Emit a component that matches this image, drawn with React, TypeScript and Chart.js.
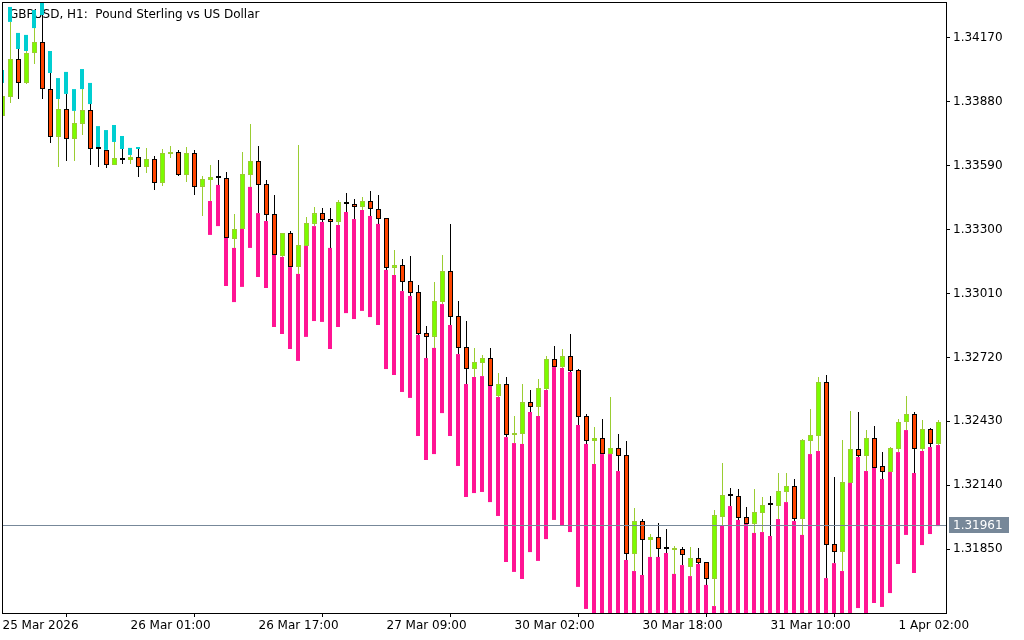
import React, { useEffect, useRef } from "react";
import { Chart, registerables } from "chart.js";

Chart.register(...registerables);

const FONT = '"DejaVu Sans", "Noto Sans", sans-serif';
const TITLE = "GBPUSD, H1:  Pound Sterling vs US Dollar";
const LAST_PRICE = 1.31961;

// x-axis tick labels (hourly bars, one label every 16 bars)
const timeTickIdx = [0, 16, 32, 48, 64, 80, 96, 112];
const timeLabels = [
  "25 Mar 2026",
  "26 Mar 01:00",
  "26 Mar 17:00",
  "27 Mar 09:00",
  "30 Mar 02:00",
  "30 Mar 18:00",
  "31 Mar 10:00",
  "1 Apr 02:00",
];

const priceTicks = [1.3417, 1.3388, 1.3359, 1.333, 1.3301, 1.3272, 1.3243, 1.3214, 1.3185];

const opens = [
  1.33816, 1.33902, 1.34075, 1.33966, 1.34102, 1.34152, 1.33938, 1.33721, 1.33848, 1.33711,
  1.3378, 1.33843, 1.33666, 1.33662, 1.33593, 1.33625, 1.33616, 1.3363, 1.33584, 1.33621,
  1.33512, 1.33643, 1.33652, 1.33548, 1.33648, 1.33494, 1.33525, 1.33534, 1.33534, 1.33257,
  1.33303, 1.33548, 1.33612, 1.33507, 1.33371, 1.3318, 1.33285, 1.3313, 1.33226, 1.33326,
  1.33375, 1.33348, 1.33335, 1.33425, 1.33416, 1.33403, 1.3343, 1.33394, 1.33353, 1.33126,
  1.33139, 1.33067, 1.33017, 1.32831, 1.32813, 1.32971, 1.33112, 1.32908, 1.32767, 1.32667,
  1.32694, 1.32717, 1.32545, 1.32599, 1.32368, 1.32372, 1.32517, 1.32495, 1.32576, 1.32713,
  1.32676, 1.32726, 1.32663, 1.32454, 1.3234, 1.32354, 1.32281, 1.32309, 1.32277, 1.31827,
  1.31977, 1.31891, 1.31905, 1.3185, 1.31846, 1.3185, 1.31768, 1.31809, 1.31791, 1.31714,
  1.31995, 1.32091, 1.32091, 1.31995, 1.31964, 1.32013, 1.3205, 1.32045, 1.32109, 1.32136,
  1.31986, 1.3234, 1.32363, 1.32608, 1.31873, 1.31836, 1.3215, 1.32304, 1.32272, 1.32354,
  1.32227, 1.322, 1.32304, 1.32427, 1.32463, 1.32304, 1.32395, 1.32327,
];

const highs = [
  1.33966, 1.34243, 1.3412, 1.34111, 1.34215, 1.34274, 1.34011, 1.33893, 1.33916, 1.33839,
  1.33938, 1.3387, 1.33666, 1.33662, 1.33698, 1.33666, 1.33639, 1.33666, 1.33671, 1.33634,
  1.33666, 1.3368, 1.33662, 1.33675, 1.33662, 1.33543, 1.33593, 1.33616, 1.33562, 1.33371,
  1.33652, 1.3378, 1.3368, 1.33525, 1.33457, 1.33285, 1.33294, 1.33684, 1.33357, 1.33403,
  1.33398, 1.33398, 1.33435, 1.33466, 1.33439, 1.33448, 1.33475, 1.33457, 1.33353, 1.33208,
  1.33167, 1.3318, 1.33049, 1.32862, 1.33062, 1.33185, 1.33326, 1.32976, 1.32885, 1.32763,
  1.32731, 1.32763, 1.32649, 1.32631, 1.32454, 1.32599, 1.32572, 1.32622, 1.32726, 1.32772,
  1.32758, 1.32826, 1.32667, 1.32463, 1.32404, 1.3244, 1.3254, 1.32372, 1.3234, 1.32036,
  1.31986, 1.31918, 1.31968, 1.31941, 1.31864, 1.31859, 1.31859, 1.31855, 1.31791, 1.32027,
  1.3224, 1.32127, 1.32122, 1.32041, 1.32122, 1.32086, 1.32091, 1.32195, 1.32195, 1.32168,
  1.32349, 1.32486, 1.32631, 1.3264, 1.32177, 1.32345, 1.32477, 1.32472, 1.3239, 1.32408,
  1.3229, 1.32313, 1.3244, 1.32545, 1.32472, 1.32436, 1.32399, 1.32436,
];

const lows = [
  1.33816, 1.33875, 1.33893, 1.33961, 1.34052, 1.33893, 1.33693, 1.33584, 1.33612, 1.33612,
  1.3373, 1.33593, 1.33584, 1.3358, 1.33593, 1.33598, 1.33598, 1.33539, 1.33557, 1.3348,
  1.33498, 1.33625, 1.33543, 1.33516, 1.33457, 1.33362, 1.3343, 1.33503, 1.33262, 1.33217,
  1.33303, 1.33494, 1.33375, 1.33339, 1.33185, 1.33176, 1.3313, 1.33099, 1.33226, 1.33316,
  1.33335, 1.33217, 1.33321, 1.3338, 1.33348, 1.33389, 1.33362, 1.33326, 1.33117, 1.33094,
  1.33021, 1.32999, 1.32822, 1.32717, 1.32763, 1.32962, 1.32867, 1.32735, 1.32599, 1.32631,
  1.32635, 1.3259, 1.3254, 1.32358, 1.32331, 1.32327, 1.32472, 1.32454, 1.32572, 1.32676,
  1.32672, 1.32654, 1.32413, 1.32327, 1.32236, 1.32281, 1.32281, 1.32204, 1.318, 1.3175,
  1.31732, 1.31814, 1.31814, 1.31832, 1.31737, 1.31777, 1.31727, 1.31782, 1.31687, 1.31591,
  1.31959, 1.32045, 1.31982, 1.31964, 1.31923, 1.31927, 1.31909, 1.31986, 1.32063, 1.31977,
  1.31914, 1.32281, 1.32295, 1.31718, 1.31786, 1.3175, 1.3215, 1.32268, 1.32204, 1.32218,
  1.32168, 1.322, 1.3229, 1.3239, 1.32195, 1.32295, 1.32313, 1.32322,
];

const closes = [
  1.33907, 1.34075, 1.33966, 1.34102, 1.34152, 1.33938, 1.33721, 1.33848, 1.33711, 1.33784,
  1.33843, 1.33666, 1.33666, 1.33593, 1.33625, 1.33616, 1.3363, 1.33584, 1.33621, 1.33512,
  1.33648, 1.33652, 1.33548, 1.33648, 1.33494, 1.3353, 1.33539, 1.33534, 1.33262, 1.33303,
  1.33553, 1.33612, 1.33503, 1.33366, 1.33185, 1.33285, 1.3313, 1.3323, 1.3333, 1.33375,
  1.33344, 1.33335, 1.33425, 1.33416, 1.33403, 1.3343, 1.33394, 1.33348, 1.33126, 1.33139,
  1.33062, 1.33012, 1.32826, 1.32813, 1.32976, 1.33112, 1.32903, 1.32763, 1.32667, 1.32699,
  1.32717, 1.3259, 1.32599, 1.32368, 1.32377, 1.32517, 1.32495, 1.32581, 1.32713, 1.32676,
  1.32726, 1.32658, 1.32449, 1.3234, 1.32354, 1.32281, 1.32309, 1.32272, 1.31827, 1.31977,
  1.31891, 1.31905, 1.3185, 1.3185, 1.3185, 1.31823, 1.31809, 1.31786, 1.31714, 1.32004,
  1.32095, 1.32091, 1.31991, 1.31964, 1.32018, 1.3205, 1.3205, 1.32113, 1.32136, 1.31986,
  1.32345, 1.32368, 1.32608, 1.31868, 1.31836, 1.32154, 1.32304, 1.32272, 1.32354, 1.32218,
  1.322, 1.32309, 1.32427, 1.32463, 1.32304, 1.32395, 1.32327, 1.32427,
];

// lower indicator bars (magenta): from bar low down to this level, starting at bar 26
const PINK_FROM = 26;
const pinkFloor = [
  1.33276, 1.33316, 1.33044, 1.32971, 1.3304, 1.33217, 1.33085, 1.33035, 1.32858, 1.32826,
  1.32758, 1.32704, 1.32813, 1.32885, 1.32881, 1.32758, 1.32858, 1.32921, 1.32894, 1.32931,
  1.32903, 1.32867, 1.32667, 1.3264, 1.32563, 1.32536, 1.32363, 1.32254, 1.32281, 1.32467,
  1.32363, 1.32227, 1.32086, 1.32104, 1.32109, 1.32063, 1.32, 1.31791, 1.31746, 1.31714,
  1.31836, 1.31796, 1.31895, 1.31982, 1.31959, 1.31927, 1.31678, 1.31578, 1.31473, 1.3151,
  1.315, 1.31414, 1.30983, 1.30924, 1.30906, 1.30997, 1.31006, 1.31033, 1.30947, 1.30997,
  1.30956, 1.31019, 1.30933, 1.30829, 1.31196, 1.31292, 1.31237, 1.31228, 1.31196, 1.3121,
  1.31201, 1.31283, 1.31364, 1.31283, 1.3121, 1.31532, 1.31537, 1.30947, 1.31024, 1.30997,
  1.31446, 1.31582, 1.31546, 1.31605, 1.31587, 1.3165, 1.31782, 1.31914, 1.31741, 1.31868,
  1.31918, 1.31954,
];

// upper indicator bars (cyan): from bar high up to this level, bars 0..17
const cyanTop = [
  1.34025, 1.34311, 1.34193, 1.34184, 1.34297, 1.34356, 1.34111, 1.33988, 1.34016, 1.33938,
  1.34029, 1.33966, 1.3377, 1.33752, 1.33775, 1.33725, 1.33671, 1.33675,
];

const X_MIN = -0.0625;
const X_MAX = 117.9375;
const Y_MIN = 1.315595;
const Y_MAX = 1.343334;

export default function App() {
  const canvasRef = useRef<HTMLCanvasElement | null>(null);

  useEffect(() => {
    const canvas = canvasRef.current;
    if (!canvas) return;
    const idx = opens.map((_, i) => i);
    const isDoji = idx.map((i) => closes[i] === opens[i]);
    const isBull = idx.map((i) => closes[i] > opens[i]);
    const bodyFill = idx.map((i) => (isDoji[i] ? "#000000" : isBull[i] ? "#7CFC00" : "#FF4500"));
    const bodyBorder = idx.map((i) => (isDoji[i] ? "#000000" : isBull[i] ? "#9ACD32" : "#000000"));
    const wickColor = idx.map((i) => (isBull[i] ? "#9ACD32" : "#000000"));

    const mtPlugin = {
      id: "mtDecor",
      beforeDatasetsDraw(chart: any) {
        const { ctx, chartArea: a } = chart;
        ctx.save();
        ctx.font = `12px ${FONT}`;
        ctx.fillStyle = "#000000";
        ctx.textBaseline = "alphabetic";
        ctx.textAlign = "left";
        ctx.fillText(TITLE, a.left + 7, a.top + 16);
        ctx.restore();
      },
      afterDraw(chart: any) {
        const { ctx, chartArea: a, scales } = chart;
        ctx.save();
        const py = Math.round(scales.y.getPixelForValue(LAST_PRICE)) + 0.5;
        ctx.strokeStyle = "#778899";
        ctx.lineWidth = 1;
        ctx.beginPath();
        ctx.moveTo(a.left, py);
        ctx.lineTo(a.right, py);
        ctx.stroke();
        ctx.fillStyle = "#778899";
        ctx.fillRect(a.right + 3, py - 8.5, 60, 16);
        ctx.fillStyle = "#FFFFFF";
        ctx.font = `12px ${FONT}`;
        ctx.textBaseline = "middle";
        ctx.textAlign = "left";
        ctx.fillText(LAST_PRICE.toFixed(5), a.right + 7, py);
        ctx.strokeStyle = "#000000";
        ctx.strokeRect(a.left + 0.5, a.top + 0.5, a.right - a.left, a.bottom - a.top);
        ctx.restore();
      },
    };

    const common = { grouped: false, clip: 0, borderSkipped: false, categoryPercentage: 1 };

    const chart = new Chart(canvas, {
      type: "bar",
      data: {
        datasets: [
          {
            ...common,
            label: "body",
            xAxisID: "x",
            data: idx.map((i) => ({ x: i, y: [opens[i], closes[i]] })),
            backgroundColor: bodyFill,
            borderColor: bodyBorder,
            borderWidth: 1,
            barPercentage: 0.625,
            minBarLength: 2,
          },
          {
            ...common,
            label: "wick",
            xAxisID: "x",
            data: idx.map((i) => ({ x: i, y: [lows[i], highs[i]] })),
            backgroundColor: wickColor,
            borderWidth: 0,
            barPercentage: 0.125,
          },
          {
            ...common,
            label: "lower band",
            xAxisID: "x2",
            data: pinkFloor.map((v, k) => ({ x: PINK_FROM + k, y: [v, lows[PINK_FROM + k]] })),
            backgroundColor: "#FF1493",
            borderWidth: 0,
            barPercentage: 0.5,
          },
          {
            ...common,
            label: "upper band",
            xAxisID: "x2",
            data: cyanTop.map((v, i) => ({ x: i, y: [highs[i], v] })),
            backgroundColor: "#00CED1",
            borderWidth: 0,
            barPercentage: 0.5,
          },
        ],
      } as any,
      options: {
        animation: false,
        responsive: false,
        maintainAspectRatio: false,
        events: [],
        layout: { padding: { left: 2, top: 2, right: 0, bottom: 0 } },
        plugins: { legend: { display: false }, tooltip: { enabled: false }, title: { display: false } },
        scales: {
          x: {
            type: "linear",
            position: "bottom",
            min: X_MIN,
            max: X_MAX,
            bounds: "data",
            offset: false,
            afterBuildTicks: (s: any) => {
              s.ticks = timeTickIdx.map((v) => ({ value: v }));
            },
            afterFit: (s: any) => {
              s.height = 27;
              s.paddingLeft = 0;
              s.paddingRight = 0;
            },
            grid: { display: true, drawOnChartArea: false, drawTicks: true, tickLength: 4, color: "#000000" },
            border: { display: false },
            ticks: {
              autoSkip: false,
              maxRotation: 0,
              minRotation: 0,
              align: "start",
              padding: 2,
              color: "#000000",
              font: { family: FONT, size: 12 },
              callback: (v: any) => {
                const k = timeTickIdx.indexOf(Number(v));
                return k >= 0 ? timeLabels[k] : "";
              },
            },
          },
          x2: {
            type: "linear",
            display: false,
            min: X_MIN + 0.0625,
            max: X_MAX + 0.0625,
            bounds: "data",
            offset: false,
          },
          y: {
            type: "linear",
            position: "right",
            min: Y_MIN,
            max: Y_MAX,
            bounds: "data",
            afterBuildTicks: (s: any) => {
              s.ticks = priceTicks.map((v) => ({ value: v }));
            },
            afterFit: (s: any) => {
              s.width = 78;
              s.paddingTop = 0;
              s.paddingBottom = 0;
            },
            grid: { display: true, drawOnChartArea: false, drawTicks: true, tickLength: 4, color: "#000000" },
            border: { display: false },
            ticks: {
              padding: 3,
              color: "#000000",
              font: { family: FONT, size: 12 },
              callback: (v: any) => Number(v).toFixed(5),
            },
          },
        },
      } as any,
      plugins: [mtPlugin],
    });

    return () => chart.destroy();
  }, []);

  return (
    <div style={{ position: "fixed", left: 0, top: 0, width: 1024, height: 640, background: "#FFFFFF" }}>
      <canvas ref={canvasRef} width={1024} height={640} style={{ width: 1024, height: 640, display: "block" }} />
    </div>
  );
}
